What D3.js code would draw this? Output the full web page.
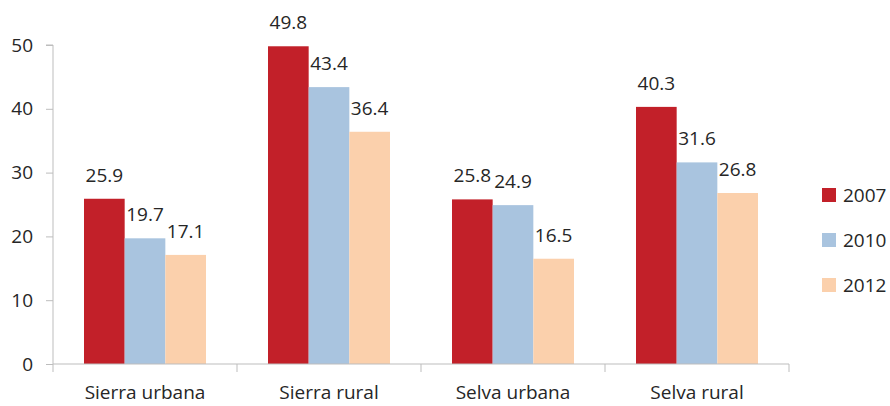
<!DOCTYPE html>
<html>
<head>
<meta charset="utf-8">
<script src="https://cdn.jsdelivr.net/npm/d3@7"></script>
<style>
  body { margin: 0; background: #fff; }
  text { font-family: "Open Sans", "Liberation Sans", sans-serif; fill: #262626; }
</style>
</head>
<body>
<div id="chart"></div>
<script>
const categories = ["Sierra urbana", "Sierra rural", "Selva urbana", "Selva rural"];
const seriesNames = ["2007", "2010", "2012"];
const values2007 = [25.9, 49.8, 25.8, 40.3];
const values2010 = [19.7, 43.4, 24.9, 31.6];
const values2012 = [17.1, 36.4, 16.5, 26.8];
const yTicks = [0, 10, 20, 30, 40, 50];
const colors = ["#C22029", "#A9C4DF", "#FBD0AC"];

const width = 890, height = 406;
const margin = { left: 53, right: 101, top: 45, bottom: 42 };
const axisColor = "#BDBDBD";
const fontSize = "19px";

const svg = d3.select("#chart").append("svg")
    .attr("width", width)
    .attr("height", height);

const series = [values2007, values2010, values2012];

const x0 = d3.scaleBand()
    .domain(categories)
    .range([margin.left, width - margin.right]);

const x1 = d3.scaleBand()
    .domain(seriesNames)
    .range([31, x0.bandwidth() - 31]);

const y = d3.scaleLinear()
    .domain([0, 50])
    .range([height - margin.bottom, margin.top]);

// y axis
const yAxis = svg.append("g")
    .attr("transform", `translate(${margin.left},0)`)
    .call(d3.axisLeft(y).tickValues(yTicks).tickSize(7).tickPadding(13));
yAxis.select(".domain").attr("stroke", axisColor).attr("d", `M-7,${y(50)}H0V${y(0)}`);
yAxis.selectAll(".tick line").attr("stroke", axisColor);
yAxis.selectAll(".tick text").style("font-size", fontSize).attr("fill", "#262626");

// bars
categories.forEach((cat, ci) => {
    const g = svg.append("g").attr("transform", `translate(${x0(cat)},0)`);
    seriesNames.forEach((s, si) => {
        const v = series[si][ci];
        g.append("rect")
            .attr("x", x1(s))
            .attr("y", y(v))
            .attr("width", x1.bandwidth())
            .attr("height", y(0) - y(v))
            .attr("fill", colors[si]);
        g.append("text")
            .attr("x", x1(s) + x1.bandwidth() / 2)
            .attr("y", y(v) - 17)
            .attr("text-anchor", "middle")
            .style("font-size", fontSize)
            .text(v.toFixed(1));
    });
});

// x axis
const xAxisG = svg.append("g")
    .attr("transform", `translate(0,${y(0)})`);
xAxisG.append("line")
    .attr("x1", margin.left).attr("x2", width - margin.right)
    .attr("stroke", axisColor);
const bounds = categories.map(c => x0(c)).concat([x0(categories[categories.length - 1]) + x0.bandwidth()]);
xAxisG.selectAll(".xtick")
    .data(bounds)
    .enter().append("line")
    .attr("x1", d => d).attr("x2", d => d)
    .attr("y1", 0).attr("y2", 8)
    .attr("stroke", axisColor);
xAxisG.selectAll(".xlabel")
    .data(categories)
    .enter().append("text")
    .attr("x", d => x0(d) + x0.bandwidth() / 2)
    .attr("y", 35)
    .attr("text-anchor", "middle")
    .style("font-size", fontSize)
    .text(d => d);

// legend
const legend = svg.append("g").attr("transform", "translate(822,188)");
seriesNames.forEach((s, i) => {
    const item = legend.append("g").attr("transform", `translate(0,${i * 45})`);
    item.append("rect")
        .attr("width", 14).attr("height", 14)
        .attr("fill", colors[i]);
    item.append("text")
        .attr("x", 21).attr("y", 14)
        .style("font-size", fontSize)
        .text(s);
});
</script>
</body>
</html>
